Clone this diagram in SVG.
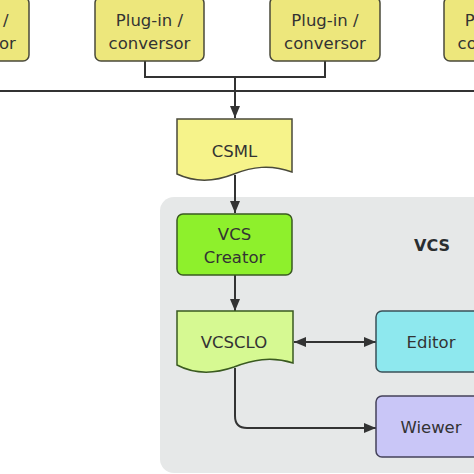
<svg xmlns="http://www.w3.org/2000/svg" width="474" height="474" viewBox="0 0 474 474">
<defs>
<marker id="ah" viewBox="0 0 12 10" refX="12" refY="5" markerWidth="12" markerHeight="10" markerUnits="userSpaceOnUse" orient="auto-start-reverse">
<path d="M0,0 L12,5 L0,10 Z" fill="#333"/>
</marker>
<style>
text{font-family:"DejaVu Sans","Noto Sans",sans-serif;font-size:16.5px;fill:#333;text-anchor:middle}
.plug{fill:#ede77c;stroke:#4a4a3a;stroke-width:1.5}
.edge{fill:none;stroke:#333;stroke-width:2}
</style>
</defs>
<rect width="474" height="474" fill="#fff"/>
<g id="vcs-group">
<rect x="160" y="197" width="330" height="276" rx="14" fill="#e6e8e8"/>
<text x="432" y="251" style="font-weight:bold;font-size:16px;fill:#2a2e30">VCS</text>
</g>
<g id="connectors">
<line class="edge" x1="0" y1="91" x2="474" y2="91"/>
<polyline class="edge" points="145,61 145,77 235,77"/>
<polyline class="edge" points="325,61 325,77 235,77"/>
<line class="edge" x1="235" y1="77" x2="235" y2="118" marker-end="url(#ah)"/>
<line class="edge" x1="235" y1="175" x2="235" y2="213" marker-end="url(#ah)"/>
<line class="edge" x1="235" y1="275" x2="235" y2="311" marker-end="url(#ah)"/>
<line class="edge" x1="294" y1="342" x2="376" y2="342" marker-start="url(#ah)" marker-end="url(#ah)"/>
<path class="edge" d="M235,368 V416 Q235,428 247,428 H376" marker-end="url(#ah)"/>
</g>
<g id="plugin1">
<rect class="plug" x="-80" y="-3" width="109" height="64" rx="6"/>
<text x="-25" y="26">Plug-in /</text>
<text x="-25" y="49">conversor</text>
</g>
<g id="plugin2">
<rect class="plug" x="95" y="-3" width="109" height="64" rx="6"/>
<text x="149.5" y="26">Plug-in /</text>
<text x="149.5" y="49">conversor</text>
</g>
<g id="plugin3">
<rect class="plug" x="270" y="-3" width="110" height="64" rx="6"/>
<text x="325" y="26">Plug-in /</text>
<text x="325" y="49">conversor</text>
</g>
<g id="plugin4">
<rect class="plug" x="444" y="-3" width="109" height="64" rx="6"/>
<text x="498.5" y="26">Plug-in /</text>
<text x="498.5" y="49">conversor</text>
</g>
<g id="csml">
<path d="M177,119 H292 V172 C270,164 252,167 234,174 C214,182 194,182 177,174 Z" fill="#f6f38a" stroke="#4a4a3a" stroke-width="1.5"/>
<text x="234.5" y="157">CSML</text>
</g>
<g id="vcs-creator">
<rect x="177" y="214" width="115" height="61" rx="6" fill="#8ef02c" stroke="#3a5a20" stroke-width="1.5"/>
<text x="234.5" y="240">VCS</text>
<text x="234.5" y="263">Creator</text>
</g>
<g id="vcsclo">
<path d="M177,311 H293 V363 C271,356 252,360 234,367 C214,374 194,374 177,365 Z" fill="#d6f992" stroke="#3a5a20" stroke-width="1.5"/>
<text x="234" y="348">VCSCLO</text>
</g>
<g id="editor">
<rect x="376" y="311" width="120" height="61" rx="6" fill="#8ee8ee" stroke="#3a5058" stroke-width="1.5"/>
<text x="431" y="348">Editor</text>
</g>
<g id="wiewer">
<rect x="376" y="396" width="120" height="61" rx="6" fill="#c9c6f7" stroke="#44425a" stroke-width="1.5"/>
<text x="431" y="433">Wiewer</text>
</g>
</svg>
